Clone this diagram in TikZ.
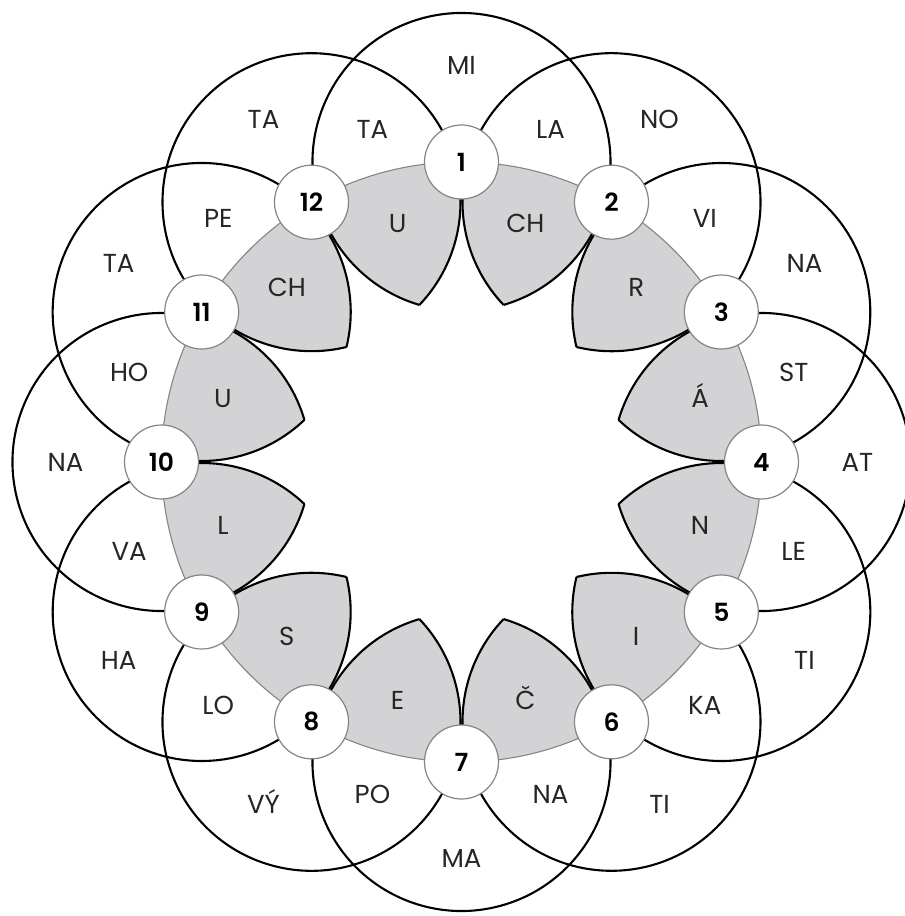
\documentclass[tikz,border=0pt]{standalone}
\usepackage{fontspec}
\setmainfont{Poppins}[BoldFont=* SemiBold]
\usetikzlibrary{calc}
\definecolor{petalgray}{HTML}{D3D3D6}
\definecolor{ringgray}{HTML}{858585}
\tikzset{
  %% numbered station on the ring
  station/.style={
    circle, draw=ringgray, fill=white, line width=1.2pt,
    minimum size=74pt, inner sep=0pt,
    font=\fontsize{25}{25}\selectfont\bfseries
  },
  %% syllable text
  syl/.style={
    font=\fontsize{26}{26}\selectfont, inner sep=0pt,
    text height=18pt, text depth=0pt, text=black!85
  },
  %% big circle line
  bigarc/.style={draw=black, line width=2.1pt},
}

\begin{document}
\begin{tikzpicture}[x=1pt, y=1pt]
  \useasboundingbox (-461.5,-454) rectangle (443.5,462);
  \def\ringR{300}
  \def\circR{149}

  %% centres of the stations
  \foreach \k in {1,...,12}
    \coordinate (c\k) at ({90-30*(\k-1)}:\ringR);

  %% gray petals between neighbours
  \foreach \k [evaluate=\k as \j using {int(mod(\k,12)+1)}] in {1,...,12} {
    \begin{scope}
      \clip (0,0) circle (\ringR);
      \clip (c\k) circle (\circR);
      \fill[petalgray] (c\j) circle (\circR);
    \end{scope}
  }
  \draw[ringgray, line width=1.1pt] (0,0) circle (\ringR);

  %% big circles round each station
  \foreach \k in {1,...,12}
    \draw[bigarc] (c\k) ++({90-30*(\k-1)-163.6}:\circR)
      arc[start angle={90-30*(\k-1)-163.6}, delta angle=327.2, radius=\circR];

  %% stations
  \foreach \k in {1,...,12}
    \node[station] (n\k) at (c\k) {\k};

  %% syllables
  \foreach \k/\outer/\lens/\petal in {
      1/MI/LA/CH, 2/NO/VI/R, 3/NA/ST/Á, 4/AT/LE/N,
      5/TI/KA/I, 6/TI/NA/Č, 7/MA/PO/E, 8/VÝ/LO/S,
      9/HA/VA/L, 10/NA/HO/U, 11/TA/PE/CH, 12/TA/TA/U} {
    \node[syl] (out\k)  at ({90-30*(\k-1)}:396) {\outer};
    \node[syl] (lens\k) at ({75-30*(\k-1)}:344) {\lens};
    \node[syl] (pet\k)  at ({75-30*(\k-1)}:247) {\petal};
  }
\end{tikzpicture}
\end{document}
